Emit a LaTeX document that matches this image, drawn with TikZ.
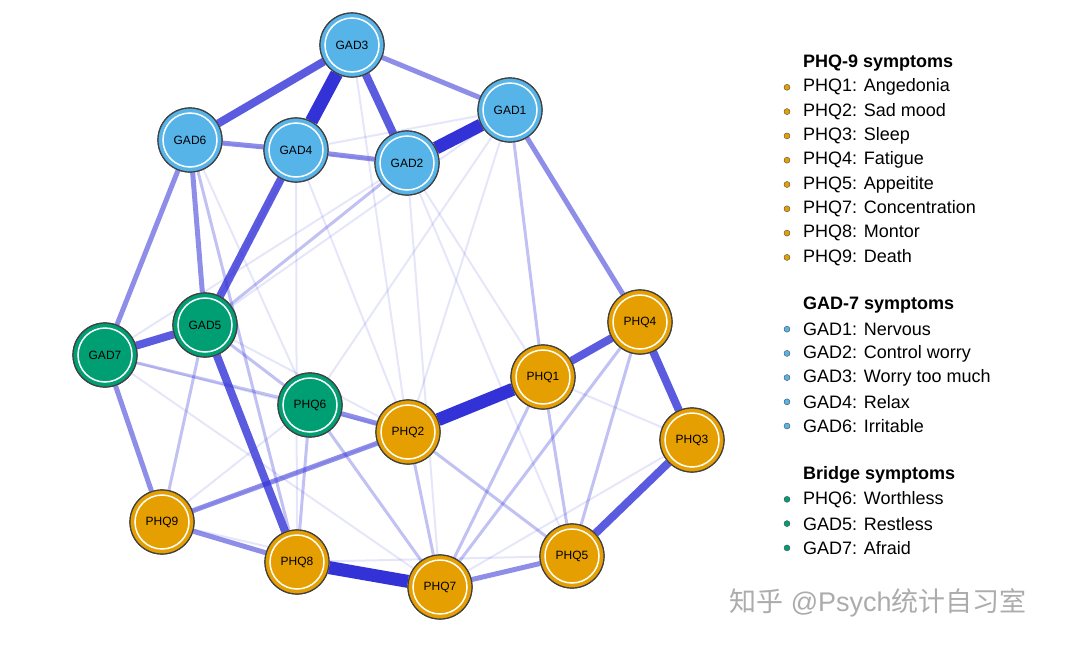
\documentclass[tikz,border=0pt]{standalone}
\usepackage{fontspec}
\setmainfont{Liberation Sans}
\newfontfamily\cjk{Noto Sans CJK SC}
\definecolor{gadc}{RGB}{86,180,233}
\definecolor{phqc}{RGB}{230,159,0}
\definecolor{brgc}{RGB}{0,158,115}
\definecolor{edgeb}{RGB}{50,50,215}
\tikzset{
  nd/.style={circle,minimum size=64pt,inner sep=0pt,fill=#1,draw=black!75,line width=1.2pt,font=\fontsize{12}{14}\selectfont},
  w1/.style={edgeb,line width=2pt,opacity=.12},
  w2/.style={edgeb,line width=3pt,opacity=.3},
  w3/.style={edgeb,line width=5pt,opacity=.55},
  w4/.style={edgeb,line width=8pt,opacity=.8},
  w5/.style={edgeb,line width=13pt,opacity=1},
  dot/.style={circle,minimum size=6pt,inner sep=0pt,fill=#1,draw=black!70,line width=.4pt},
  leg/.style={anchor=west,font=\fontsize{18}{20}\selectfont,inner sep=0pt},
  legh/.style={leg,font=\fontsize{18}{20}\selectfont\bfseries}
}
\begin{document}
\begin{tikzpicture}[x=1pt,y=-1pt]
\useasboundingbox (0,0) rectangle (1080,651);
% nodes
\node[nd=gadc] (GAD3) at (352,45) {GAD3};
\node[nd=gadc] (GAD1) at (510,110) {GAD1};
\node[nd=gadc] (GAD6) at (190,140) {GAD6};
\node[nd=gadc] (GAD4) at (296,150) {GAD4};
\node[nd=gadc] (GAD2) at (407,163) {GAD2};
\node[nd=brgc] (GAD5) at (205,325) {GAD5};
\node[nd=brgc] (GAD7) at (105,355) {GAD7};
\node[nd=brgc] (PHQ6) at (310,405) {PHQ6};
\node[nd=phqc] (PHQ2) at (408,432) {PHQ2};
\node[nd=phqc] (PHQ1) at (543,377) {PHQ1};
\node[nd=phqc] (PHQ4) at (640,322) {PHQ4};
\node[nd=phqc] (PHQ3) at (692,440) {PHQ3};
\node[nd=phqc] (PHQ9) at (162,522) {PHQ9};
\node[nd=phqc] (PHQ8) at (297,562) {PHQ8};
\node[nd=phqc] (PHQ7) at (440,587) {PHQ7};
\node[nd=phqc] (PHQ5) at (572,556) {PHQ5};
% edges
\foreach \a/\b/\w in {
  GAD6/GAD2/w1, GAD4/GAD1/w1, GAD6/PHQ6/w1, GAD4/PHQ8/w1, GAD2/PHQ7/w1,
  GAD2/PHQ5/w1, GAD1/PHQ6/w1, GAD1/GAD5/w1, GAD2/GAD7/w1, GAD4/PHQ2/w1,
  GAD7/PHQ2/w1, GAD7/PHQ7/w1, GAD5/PHQ2/w1, PHQ6/PHQ9/w1, PHQ2/PHQ9/w1,
  PHQ1/PHQ3/w1, PHQ3/PHQ7/w1, PHQ9/PHQ7/w1, PHQ8/PHQ5/w1, GAD3/PHQ2/w1,
  GAD3/GAD5/w1, GAD1/PHQ2/w1, GAD2/PHQ1/w1,
  GAD1/PHQ1/w2, GAD7/PHQ6/w2, GAD5/PHQ6/w2, PHQ6/PHQ8/w2, PHQ6/PHQ7/w2,
  PHQ2/PHQ7/w2, PHQ2/PHQ5/w2, PHQ1/PHQ7/w2, PHQ1/PHQ5/w2, PHQ4/PHQ7/w2,
  PHQ4/PHQ5/w2, PHQ9/GAD5/w2, GAD6/PHQ8/w2, GAD2/GAD5/w2,
  GAD1/PHQ4/w3, GAD6/GAD7/w3, GAD6/GAD5/w3, GAD6/GAD4/w3, GAD3/GAD1/w3,
  GAD4/GAD2/w3, GAD7/PHQ9/w3, PHQ9/PHQ8/w3, PHQ7/PHQ5/w3, PHQ2/PHQ6/w3,
  PHQ9/PHQ2/w3,
  GAD3/GAD6/w4, GAD3/GAD2/w4, GAD4/GAD5/w4, GAD5/GAD7/w4, GAD5/PHQ8/w4,
  PHQ4/PHQ1/w4, PHQ3/PHQ4/w4, PHQ5/PHQ3/w4,
  GAD3/GAD4/w5, GAD2/GAD1/w5, PHQ8/PHQ7/w5, PHQ1/PHQ2/w5}
  \draw[\w] (\a) -- (\b);
% redraw nodes on top
\foreach \n/\c in {GAD3/gadc,GAD1/gadc,GAD6/gadc,GAD4/gadc,GAD2/gadc,
  GAD5/brgc,GAD7/brgc,PHQ6/brgc,PHQ2/phqc,PHQ1/phqc,PHQ4/phqc,PHQ3/phqc,
  PHQ9/phqc,PHQ8/phqc,PHQ7/phqc,PHQ5/phqc}{
  \node[nd=\c] at (\n) {\n};
  \draw[white,line width=1.5pt] (\n) circle (27);
}
% legend
\node[legh] (h1) at (803,63) {PHQ-9 symptoms};
\foreach \t [count=\i] in {PHQ1: Angedonia,PHQ2: Sad mood,PHQ3: Sleep,PHQ4: Fatigue,
  PHQ5: Appeitite,PHQ7: Concentration,PHQ8: Montor,PHQ9: Death}{
  \node[dot=phqc] at (787,63+24.3*\i) {};
  \node[leg] at (803,63+24.3*\i) {\t};
}
\node[legh] (h2) at (803,305) {GAD-7 symptoms};
\foreach \t [count=\i] in {GAD1: Nervous,GAD2: Control worry,GAD3: Worry too much,
  GAD4: Relax,GAD6: Irritable}{
  \node[dot=gadc] at (787,305+24.2*\i) {};
  \node[leg] at (803,305+24.2*\i) {\t};
}
\node[legh] (h3) at (803,475) {Bridge symptoms};
\foreach \t [count=\i] in {PHQ6: Worthless,GAD5: Restless,GAD7: Afraid}{
  \node[dot=brgc] at (787,475+24.3*\i) {};
  \node[leg] at (803,475+24.3*\i) {\t};
}
\node[anchor=center,text=gray!65,font=\fontsize{27}{30}\selectfont] (wm) at (878,603) {{\cjk 知乎} @Psych{\cjk 统计自习室}};
\end{tikzpicture}
\end{document}
